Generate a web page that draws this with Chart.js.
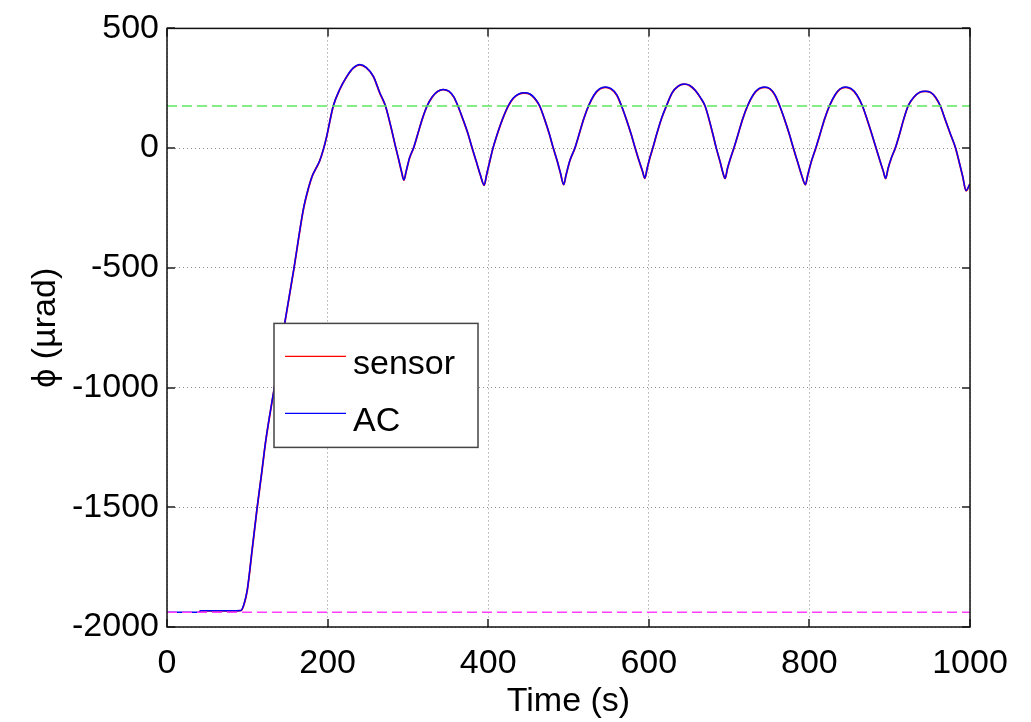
<!DOCTYPE html>
<html>
<head>
<meta charset="utf-8">
<title>phi vs time</title>
<script src="https://cdn.jsdelivr.net/npm/chart.js@4.4.1/dist/chart.umd.min.js"></script>
<style>
  body { margin: 0; background: #fff; }
  canvas { display: block; }
</style>
</head>
<body>
<canvas id="phiChart" width="1031" height="722"></canvas>
<script>
// Time samples (s)
const timeSec = [
  0, 20, 40, 42, 60, 80, 92, 96, 100, 106, 112, 118, 123, 135, 147, 158, 170, 176, 181, 186,
  190, 195, 199, 203, 207, 215, 224, 232, 240, 248, 257, 265, 272, 278, 285, 289, 292, 295,
  298, 302, 307, 312, 318, 324, 330, 337, 344, 351, 357, 362, 368, 374, 380, 385, 390, 395,
  398, 402, 406, 411, 418, 425, 431, 438, 445, 452, 458, 464, 470, 476, 481, 486, 490, 494,
  497, 502, 508, 513, 519, 525, 532, 539, 546, 553, 560, 566, 572, 578, 583, 588, 592, 595,
  598, 601, 605, 610, 616, 622, 629, 637, 644, 651, 658, 664, 670, 675, 680, 684, 689, 692, 695,
  698, 702, 706, 711, 717, 723, 730, 737, 744, 751, 757, 763, 769, 775, 780, 785, 790, 795,
  798, 803, 808, 813, 819, 825, 832, 838, 845, 852, 859, 866, 872, 878, 883, 888, 892, 895,
  898, 902, 907, 912, 917, 923, 930, 937, 944, 951, 957, 963, 969, 976, 982, 987, 991, 995, 1000
];

// Sensor reading, phi (µrad)
const sensorPhi = [
  null, null, -1938, -1933, -1933, -1933, -1932, -1905, -1846, -1680, -1510, -1355, -1223, -975, -725, -505, -254, -170, -116, -82,
  -55, -3, 50, 115, 175, 244, 299, 334, 348, 336, 299, 230, 176, 100, 0, -55, -98, -134,
  -95, -42, 0, 55, 122, 176, 212, 236, 244, 237, 214, 178, 125, 68, 0, -55, -110, -155,
  -112, -55, 0, 55, 122, 176, 207, 225, 230, 225, 207, 176, 122, 60, 0, -55, -105, -153,
  -112, -50, 0, 55, 122, 176, 222, 247, 254, 247, 222, 176, 120, 58, 0, -55, -95, -126,
  -85, -45, 0, 60, 125, 176, 230, 259, 267, 261, 240, 212, 176, 120, 55, 0, -60, -100, -127,
  -85, -40, 0, 55, 122, 176, 222, 247, 254, 247, 222, 176, 120, 58, 0, -55, -110, -153,
  -112, -50, 0, 55, 122, 176, 222, 246, 254, 247, 222, 176, 118, 55, 0, -55, -97, -127,
  -85, -42, 0, 55, 115, 176, 212, 232, 237, 232, 212, 176, 120, 55, 0, -65, -120, -178, -150
];

// AC output, phi (µrad)
const acPhi = [
  -1938, -1938, -1938, -1932, -1932, -1932, -1931, -1903, -1844, -1678, -1508, -1353, -1221, -973, -723, -503, -252, -168, -115, -81,
  -54, -2, 51, 116, 176, 245, 300, 335, 349, 337, 300, 231, 177, 101, 1, -54, -97, -133,
  -94, -41, 1, 56, 123, 177, 213, 237, 245, 238, 215, 179, 126, 69, 1, -54, -109, -154,
  -111, -54, 1, 56, 123, 177, 208, 226, 231, 226, 208, 177, 123, 61, 1, -54, -104, -152,
  -111, -49, 1, 56, 123, 177, 223, 248, 255, 248, 223, 177, 121, 59, 1, -54, -94, -125,
  -84, -44, 1, 61, 126, 177, 231, 260, 268, 262, 241, 213, 177, 121, 56, 1, -59, -99, -126,
  -84, -39, 1, 56, 123, 177, 223, 248, 255, 248, 223, 177, 121, 59, 1, -54, -109, -152,
  -111, -49, 1, 56, 123, 177, 223, 247, 255, 248, 223, 177, 119, 56, 1, -54, -96, -126,
  -84, -41, 1, 56, 116, 177, 213, 233, 238, 233, 213, 177, 121, 56, 1, -64, -119, -177, -149
];

// Dashed reference levels
const upperLevel = 176;
const lowerLevel = -1938;
const levelSpan = [0, 1000];

const xTicks = [0, 200, 400, 600, 800, 1000];
const yTicks = [-2000, -1500, -1000, -500, 0, 500];
const seriesNames = ['sensor', 'AC'];

const FONT = "'Liberation Sans', Arial, Helvetica, sans-serif";

function toPoints(xs, ys) {
  const pts = [];
  xs.forEach((t, i) => {
    if (ys[i] !== null) pts.push({ x: t, y: ys[i] });
  });
  return pts;
}

// box, inward tick marks (matlab style)
const framePlugin = {
  id: 'frame',
  afterDraw(chart) {
    const { ctx, chartArea: a, scales: { x, y } } = chart;
    ctx.save();
    ctx.strokeStyle = '#555';
    ctx.lineWidth = 2;
    const len = 8;
    ctx.beginPath();
    xTicks.forEach(v => {
      const px = Math.round(x.getPixelForValue(v));
      ctx.moveTo(px, a.bottom); ctx.lineTo(px, a.bottom - len);
      ctx.moveTo(px, a.top); ctx.lineTo(px, a.top + len);
    });
    yTicks.forEach(v => {
      const py = Math.round(y.getPixelForValue(v));
      ctx.moveTo(a.left, py); ctx.lineTo(a.left + len, py);
      ctx.moveTo(a.right, py); ctx.lineTo(a.right - len, py);
    });
    ctx.stroke();
    ctx.strokeStyle = '#111';
    ctx.lineWidth = 1.5;
    ctx.strokeRect(a.left, a.top, a.right - a.left, a.bottom - a.top);
    ctx.restore();
  }
};

// legend box sitting inside the axes
const legendPlugin = {
  id: 'boxLegend',
  afterDatasetsDraw(chart) {
    const { ctx, chartArea: a } = chart;
    const bx = a.left + 107, by = a.top + 295, bw = 204, bh = 124;
    ctx.save();
    ctx.fillStyle = '#fff';
    ctx.fillRect(bx, by, bw, bh);
    ctx.strokeStyle = '#444';
    ctx.lineWidth = 1.5;
    ctx.strokeRect(bx, by, bw, bh);
    const rows = chart.data.datasets.filter(d => seriesNames.includes(d.label));
    rows.forEach((ds, i) => {
      const ry = by + 33 + i * 57;
      ctx.strokeStyle = ds.borderColor;
      ctx.lineWidth = 1.2;
      ctx.beginPath();
      ctx.moveTo(bx + 11, ry);
      ctx.lineTo(bx + 72, ry);
      ctx.stroke();
      ctx.fillStyle = '#000';
      ctx.font = '34px ' + FONT;
      ctx.textBaseline = 'alphabetic';
      ctx.fillText(ds.label, bx + 79, ry + 18);
    });
    ctx.restore();
  }
};

new Chart(document.getElementById('phiChart'), {
  type: 'line',
  data: {
    datasets: [
      {
        label: 'level-high',
        data: toPoints(levelSpan, [upperLevel, upperLevel]),
        borderColor: '#5ee85e',
        borderWidth: 1.5,
        borderDash: [10, 5],
        pointRadius: 0,
        order: 0
      },
      {
        label: 'level-low',
        data: toPoints(levelSpan, [lowerLevel, lowerLevel]),
        borderColor: '#ff40ff',
        borderWidth: 1.5,
        borderDash: [10, 5],
        pointRadius: 0,
        order: 0
      },
      {
        label: seriesNames[0],
        data: toPoints(timeSec, sensorPhi),
        borderColor: '#ff0000',
        borderWidth: 1.8,
        pointRadius: 0,
        cubicInterpolationMode: 'monotone',
        order: 2
      },
      {
        label: seriesNames[1],
        data: toPoints(timeSec, acPhi),
        borderColor: '#0000ff',
        borderWidth: 1.5,
        pointRadius: 0,
        cubicInterpolationMode: 'monotone',
        order: 1
      }
    ]
  },
  options: {
    responsive: false,
    animation: false,
    devicePixelRatio: 1,
    events: [],
    layout: { padding: { top: 25, right: 61, bottom: 0, left: 0 } },
    plugins: {
      legend: { display: false },
      tooltip: { enabled: false }
    },
    scales: {
      x: {
        type: 'linear',
        min: 0,
        max: 1000,
        afterBuildTicks: s => { s.ticks = xTicks.map(v => ({ value: v })); },
        afterFit: s => { s.height = 95; },
        ticks: {
          autoSkip: false,
          maxRotation: 0,
          padding: 16,
          color: '#000',
          font: { family: FONT, size: 34 },
          callback: v => String(v)
        },
        grid: { color: '#8a8a8a', lineWidth: 1, drawTicks: false },
        border: { display: false, dash: [1, 3] },
        title: {
          display: true,
          text: 'Time (s)',
          color: '#000',
          font: { family: FONT, size: 34 },
          padding: { top: 0, bottom: 0 }
        }
      },
      y: {
        type: 'linear',
        min: -2000,
        max: 500,
        afterBuildTicks: s => { s.ticks = yTicks.map(v => ({ value: v })); },
        afterFit: s => { s.width = 167; },
        ticks: {
          padding: 8,
          color: '#000',
          font: { family: FONT, size: 34 },
          callback: v => String(v)
        },
        grid: { color: '#8a8a8a', lineWidth: 1, drawTicks: false },
        border: { display: false, dash: [1, 3] },
        title: {
          display: true,
          text: 'ϕ (µrad)',
          color: '#000',
          font: { family: FONT, size: 34 },
          padding: { top: 25, bottom: 0 }
        }
      }
    }
  },
  plugins: [legendPlugin, framePlugin]
});
</script>
</body>
</html>
